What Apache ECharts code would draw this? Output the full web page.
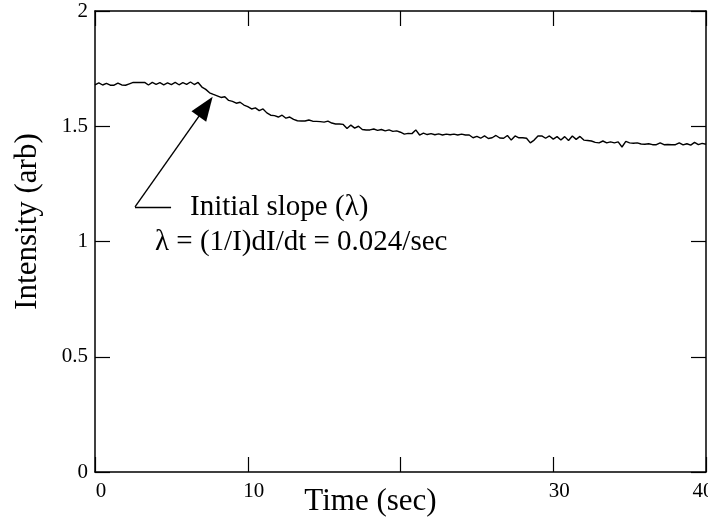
<!DOCTYPE html>
<html>
<head>
<meta charset="utf-8">
<script src="https://cdn.jsdelivr.net/npm/echarts@6/dist/echarts.min.js"></script>
<style>html,body{margin:0;padding:0;background:#fff}#c{width:708px;height:518px}</style>
</head>
<body>
<div id="c"></div>
<script>
// ---- data ----
const startTime = 0;
const sampleStep = 0.25; // seconds between samples
const intensity = [
  1.680, 1.688, 1.679, 1.686,
  1.678, 1.678, 1.687, 1.679,
  1.678, 1.684, 1.690, 1.690,
  1.690, 1.690, 1.679, 1.690,
  1.682, 1.689, 1.680, 1.688,
  1.681, 1.690, 1.680, 1.689,
  1.682, 1.692, 1.681, 1.690,
  1.670, 1.660, 1.645, 1.638,
  1.632, 1.625, 1.628, 1.612,
  1.608, 1.600, 1.604, 1.592,
  1.585, 1.575, 1.580, 1.568,
  1.575, 1.558, 1.548, 1.546,
  1.540, 1.548, 1.535, 1.540,
  1.530, 1.524, 1.523, 1.523,
  1.527, 1.522, 1.521, 1.520,
  1.518, 1.522, 1.514, 1.510,
  1.510, 1.508, 1.490, 1.505,
  1.492, 1.500, 1.486, 1.484,
  1.484, 1.488, 1.482, 1.486,
  1.480, 1.484, 1.478, 1.480,
  1.474, 1.466, 1.469, 1.468,
  1.484, 1.462, 1.470, 1.464,
  1.468, 1.463, 1.467, 1.462,
  1.466, 1.463, 1.466, 1.462,
  1.466, 1.462, 1.462, 1.450,
  1.456, 1.448, 1.458, 1.447,
  1.450, 1.460, 1.449, 1.448,
  1.460, 1.440, 1.458, 1.450,
  1.450, 1.448, 1.428, 1.440,
  1.458, 1.458, 1.448, 1.458,
  1.444, 1.455, 1.440, 1.455,
  1.438, 1.458, 1.443, 1.456,
  1.440, 1.438, 1.436, 1.430,
  1.428, 1.436, 1.428, 1.432,
  1.428, 1.432, 1.410, 1.434,
  1.428, 1.426, 1.428, 1.423,
  1.422, 1.424, 1.420, 1.420,
  1.428, 1.420, 1.421, 1.420,
  1.420, 1.428, 1.419, 1.424,
  1.418, 1.430, 1.420, 1.426,
  1.422
];
const xTicks = [0, 10, 20, 30, 40];
const xTickLabels = ['0', '10', '', '30', '40'];
const yTicks = [0, 0.5, 1, 1.5, 2];
const yTickLabels = ['0', '0.5', '1', '1.5', '2'];
const xTitle = 'Time (sec)';
const yTitle = 'Intensity (arb)';
const noteLine1 = 'Initial slope (λ)';
const noteLine2 = 'λ = (1/I)dI/dt = 0.024/sec';
// annotation anchor points in data coordinates
const arrowCorner = [2.62, 1.15];
const arrowLeaderEnd = [4.98, 1.15];
const arrowTip = [7.25, 1.585];
const note1At = [6.22, 1.15];
const note2At = [3.93, 0.995];

// ---- chart ----
const seriesData = intensity.map((v, i) => [startTime + i * sampleStep, v]);
const FONT = "'Liberation Serif', 'Times New Roman', serif";
const black = '#000';

const baseX = {
  type: 'value', min: 0, max: 40, interval: 10,
  splitLine: { show: false },
  axisLine: { show: true, onZero: false, lineStyle: { color: black, width: 1.5 } },
  axisTick: { show: true, inside: true, length: 15, lineStyle: { color: black, width: 1.2 } }
};
const baseY = {
  type: 'value', min: 0, max: 2, interval: 0.5,
  splitLine: { show: false },
  axisLine: { show: true, onZero: false, lineStyle: { color: black, width: 1.5 } },
  axisTick: { show: true, inside: true, length: 15, lineStyle: { color: black, width: 1.2 } }
};

const chart = echarts.init(document.getElementById('c'), null, { renderer: 'canvas' });
chart.setOption({
  animation: false,
  backgroundColor: '#fff',
  grid: { left: 95, right: 2, top: 11, bottom: 46, containLabel: false, outerBoundsMode: 'none' },
  xAxis: [
    Object.assign({}, baseX, {
      position: 'bottom',
      name: xTitle, nameLocation: 'middle', nameGap: 14, nameMoveOverlap: false,
      nameTextStyle: { fontFamily: FONT, fontSize: 31, color: black, padding: [0, 60, 0, 0], verticalAlign: 'top' },
      axisLabel: {
        show: true, margin: 9, fontFamily: FONT, fontSize: 21, color: black,
        rich: {
          n: { fontFamily: FONT, fontSize: 21, color: black, padding: [0, 0, 0, 12] },
          e: { fontFamily: FONT, fontSize: 21, color: black, padding: [0, 6, 0, 0] }
        },
        formatter: v => {
          const k = xTicks.indexOf(v);
          if (k < 0 || !xTickLabels[k]) return '';
          return (k === xTicks.length - 1 ? '{e|' : '{n|') + xTickLabels[k] + '}';
        }
      }
    }),
    Object.assign({}, baseX, { position: 'top', axisLabel: { show: false } })
  ],
  yAxis: [
    Object.assign({}, baseY, {
      position: 'left',
      name: yTitle, nameLocation: 'middle', nameGap: 52, nameRotate: 90, nameMoveOverlap: false,
      nameTextStyle: { fontFamily: FONT, fontSize: 31, color: black, padding: [0, 0, 0, 40] },
      axisLabel: {
        show: true, margin: 7, fontFamily: FONT, fontSize: 21, color: black,
        formatter: v => { const k = yTicks.indexOf(v); return k >= 0 ? yTickLabels[k] : ''; }
      }
    }),
    Object.assign({}, baseY, { position: 'right', axisLabel: { show: false } })
  ],
  series: [{
    type: 'line',
    xAxisIndex: 0, yAxisIndex: 0,
    data: seriesData,
    showSymbol: false,
    symbol: 'none',
    lineStyle: { color: black, width: 1.4 },
    markLine: {
      silent: true,
      label: { show: false },
      lineStyle: { color: black, width: 1.4, type: 'solid' },
      data: [
        [ { coord: arrowLeaderEnd, symbol: 'none' }, { coord: arrowCorner, symbol: 'none' } ],
        [ { coord: arrowCorner, symbol: 'none' }, { coord: arrowTip, symbol: 'triangle', symbolSize: [18, 24] } ]
      ]
    },
    markPoint: {
      silent: true,
      symbol: 'circle', symbolSize: 0,
      itemStyle: { color: 'transparent' },
      data: [
        { coord: note1At, label: { show: true, position: 'right', distance: 0, formatter: noteLine1, fontFamily: FONT, fontSize: 29, color: black } },
        { coord: note2At, label: { show: true, position: 'right', distance: 0, formatter: noteLine2, fontFamily: FONT, fontSize: 29, color: black } }
      ]
    }
  }]
});
</script>
</body>
</html>
